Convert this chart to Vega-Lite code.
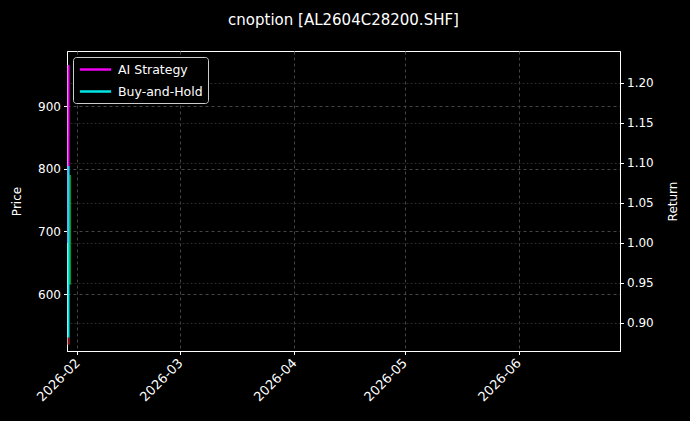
{
  "$schema": "https://vega.github.io/schema/vega-lite/v6.json",
  "autosize": "none",
  "width": 553,
  "height": 300,
  "padding": {"left": 67, "top": 51, "right": 70, "bottom": 70},
  "background": "#000000",
  "title": {
    "text": "cnoption [AL2604C28200.SHF]",
    "color": "#ffffff",
    "font": "DejaVu Sans",
    "fontSize": 15,
    "fontWeight": "normal",
    "anchor": "middle",
    "offset": 23
  },
  "datasets": {
    "candles": [
      {"time": "2026-01-29T16:00:00Z", "low": 519, "high": 531, "dir": "down"},
      {"time": "2026-01-29T23:00:00Z", "low": 615, "high": 790, "dir": "up"}
    ],
    "returns": [
      {"time": "2026-01-29T13:00:00Z", "series": "AI Strategy", "value": 1.0},
      {"time": "2026-01-29T14:00:00Z", "series": "AI Strategy", "value": 1.222},
      {"time": "2026-01-29T13:00:00Z", "series": "Buy-and-Hold", "value": 1.0},
      {"time": "2026-01-29T13:30:00Z", "series": "Buy-and-Hold", "value": 1.096},
      {"time": "2026-01-29T14:00:00Z", "series": "Buy-and-Hold", "value": 0.882}
    ]
  },
  "layer": [
    {
      "data": {"name": "candles"},
      "mark": {"type": "rule", "strokeWidth": 2.5},
      "encoding": {
        "x": {
          "field": "time",
          "type": "temporal",
          "scale": {"type": "utc", "domain": ["2026-01-29T04:00:00Z", "2026-06-28T14:00:00Z"]},
          "axis": {
            "title": null,
            "labelExpr": "utcFormat(datum.value, '%Y-%m')",
            "values": [
              {"year": 2026, "month": 2, "date": 1, "utc": true},
              {"year": 2026, "month": 3, "date": 1, "utc": true},
              {"year": 2026, "month": 4, "date": 1, "utc": true},
              {"year": 2026, "month": 5, "date": 1, "utc": true},
              {"year": 2026, "month": 6, "date": 1, "utc": true}
            ],
            "labelAngle": -45,
            "labelAlign": "right",
            "labelBaseline": "middle",
            "labelFontSize": 13,
            "labelPadding": 6,
            "grid": true,
            "gridColor": "#444444",
            "gridDash": [3, 3]
          }
        },
        "y": {
          "field": "low",
          "type": "quantitative",
          "scale": {"domain": [509, 988], "nice": false, "zero": false},
          "axis": {
            "title": "Price",
            "orient": "left",
            "titlePadding": 14,
            "values": [600, 700, 800, 900],
            "grid": true,
            "gridColor": "#444444",
            "gridDash": [3, 3]
          }
        },
        "y2": {"field": "high"},
        "color": {
          "field": "dir",
          "type": "nominal",
          "scale": {"domain": ["up", "down"], "range": ["#1f8a1f", "#7a1414"]},
          "legend": null
        }
      }
    },
    {
      "data": {"name": "returns"},
      "mark": {"type": "line", "strokeWidth": 2},
      "encoding": {
        "x": {"field": "time", "type": "temporal"},
        "y": {
          "field": "value",
          "type": "quantitative",
          "scale": {"domain": [0.865, 1.2396], "nice": false, "zero": false},
          "axis": {
            "title": "Return",
            "orient": "right",
            "titleAngle": 270,
            "titleX": 52,
            "titleY": 150,
            "titleAlign": "center",
            "titleBaseline": "middle",
            "values": [0.9, 0.95, 1.0, 1.05, 1.1, 1.15, 1.2],
            "format": ".2f",
            "grid": true,
            "gridColor": "#2a2a2a",
            "gridDash": [2, 2]
          }
        },
        "color": {
          "field": "series",
          "type": "nominal",
          "scale": {"domain": ["AI Strategy", "Buy-and-Hold"], "range": ["#f000f0", "#00e6e6"]},
          "legend": {
            "title": null,
            "orient": "top-left",
            "offset": 6,
            "fillColor": "#000000",
            "strokeColor": "#cccccc",
            "cornerRadius": 3,
            "padding": 5,
            "symbolType": "M-2.6,0H2.6",
            "symbolSize": 144,
            "symbolOffset": 10,
            "symbolStrokeWidth": 2.5,
            "labelOffset": 15,
            "labelColor": "#ffffff",
            "labelFont": "DejaVu Sans",
            "labelFontSize": 12.5,
            "rowPadding": 8
          }
        }
      }
    }
  ],
  "resolve": {"scale": {"y": "independent", "color": "independent"}},
  "config": {
    "view": {"stroke": "#ffffff", "strokeWidth": 1},
    "axis": {
      "domainColor": "#ffffff",
      "tickColor": "#ffffff",
      "tickSize": 3.5,
      "labelColor": "#ffffff",
      "labelFont": "DejaVu Sans",
      "labelFontSize": 12,
      "labelPadding": 3,
      "titleColor": "#ffffff",
      "titleFont": "DejaVu Sans",
      "titleFontSize": 12,
      "titleFontWeight": "normal"
    }
  }
}
